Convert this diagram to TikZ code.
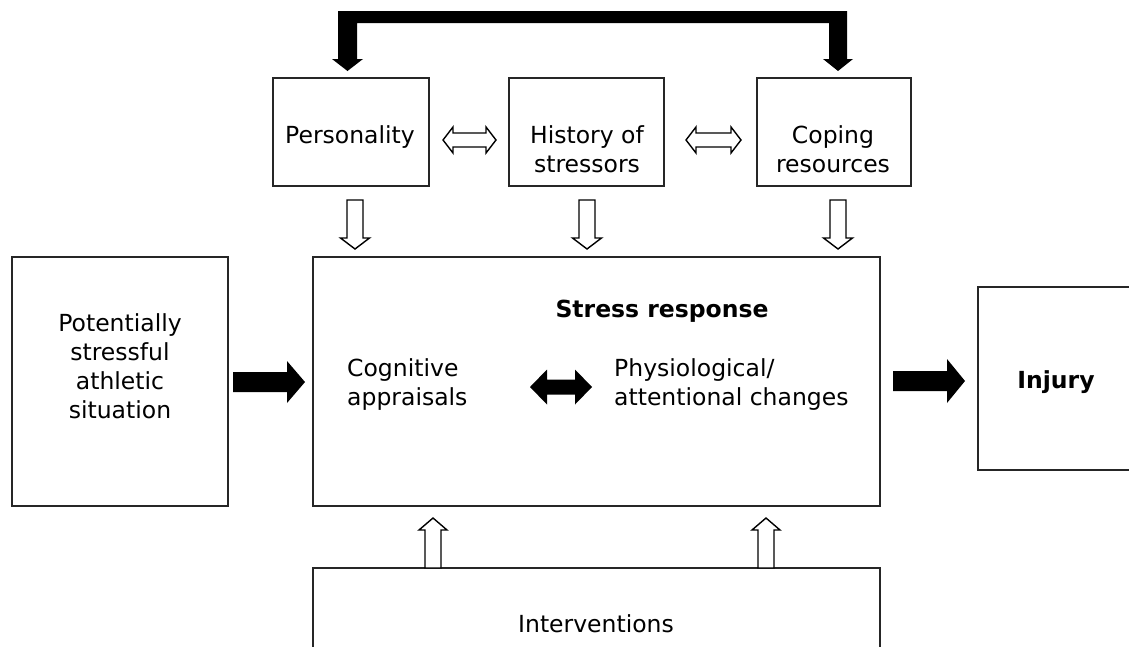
\documentclass[tikz,border=0pt]{standalone}
\usepackage{fontspec}
\setmainfont{DejaVu Sans}
\newcommand{\RArr}[7]{\path[#7] (#1,#3-#4) -- (#2-#6,#3-#4) -- (#2-#6,#3-#5) -- (#2,#3) -- (#2-#6,#3+#5) -- (#2-#6,#3+#4) -- (#1,#3+#4) -- cycle;}
\newcommand{\HDArr}[7]{\path[#7] (#1,#3) -- (#1+#6,#3-#5) -- (#1+#6,#3-#4) -- (#2-#6,#3-#4) -- (#2-#6,#3-#5) -- (#2,#3) -- (#2-#6,#3+#5) -- (#2-#6,#3+#4) -- (#1+#6,#3+#4) -- (#1+#6,#3+#5) -- cycle;}
\newcommand{\DArr}[7]{\path[#7] (#1-#4,#2) -- (#1-#4,#3-#6) -- (#1-#5,#3-#6) -- (#1,#3) -- (#1+#5,#3-#6) -- (#1+#4,#3-#6) -- (#1+#4,#2) -- cycle;}
\newcommand{\UArr}[7]{\path[#7] (#1-#4,#3) -- (#1-#4,#2+#6) -- (#1-#5,#2+#6) -- (#1,#2) -- (#1+#5,#2+#6) -- (#1+#4,#2+#6) -- (#1+#4,#3) -- cycle;}
\begin{document}
\begin{tikzpicture}[x=1pt,y=-1pt,
  box/.style={draw=black!85, line width=1.5pt, inner sep=0pt, fill=none},
  txt/.style={font=\fontsize{23.5}{29}\selectfont, inner sep=0pt},
  hollow/.style={draw=black, line width=1.4pt, fill=white, line join=miter},
  solid/.style={fill=black}]
\clip (0,0) rectangle (1129,646);
\fill[white] (0,0) rectangle (1129,646);
% boxes
\node[box, minimum width=216pt, minimum height=249pt] (sit) at (120,381.5) {};
\node[box, minimum width=156pt, minimum height=108pt] (pers) at (351,132) {};
\node[box, minimum width=155pt, minimum height=108pt] (hist) at (586.5,132) {};
\node[box, minimum width=154pt, minimum height=108pt] (cop) at (834,132) {};
\node[box, minimum width=567pt, minimum height=249pt] (main) at (596.5,381.5) {};
\node[box, line width=2.2pt, minimum width=170pt, minimum height=183pt] (inj) at (1063,378.5) {};
\node[box, minimum width=567pt, minimum height=102pt] (interv) at (596.5,619) {};
% texts (anchor=base sits on the last line)
\node[txt, anchor=base] (tpers) at (350,143) {Personality};
\node[txt, anchor=base, align=center] (thist) at (587,172) {History of\\stressors};
\node[txt, anchor=base, align=center] (tcop) at (833,172) {Coping\\resources};
\node[txt, anchor=base, font=\fontsize{23.5}{29}\selectfont\bfseries] (tstress) at (662,317) {Stress response};
\node[txt, anchor=base west, align=left] (tcog) at (347,405) {Cognitive\\appraisals};
\node[txt, anchor=base west, align=left] (tphys) at (614,405) {Physiological/\\attentional changes};
\node[txt, anchor=base, align=center] (tsit) at (120,418) {Potentially\\stressful\\athletic\\situation};
\node[txt, anchor=base, font=\fontsize{23.5}{29}\selectfont\bfseries] (tinj) at (1056,388) {Injury};
\node[txt, anchor=base] (tint) at (596,632) {Interventions};
% top bracket arrow
\fill[black] (338,11) -- (847,11) -- (847,59) -- (853,59) -- (838,71) -- (823,59) -- (829,59) -- (829,23) -- (357,23) -- (357,59) -- (363,59) -- (347.5,71) -- (332,59) -- (338,59) -- cycle;
% hollow double arrows
\HDArr{443}{496}{140}{7}{13}{10}{hollow}
\HDArr{686}{741}{140}{7}{13}{10}{hollow}
% hollow down arrows
\DArr{355}{200}{249}{8}{14.5}{11}{hollow}
\DArr{587}{200}{249}{8}{14.5}{11}{hollow}
\DArr{838}{200}{249}{8}{14.5}{11}{hollow}
% hollow up arrows
\UArr{433}{518}{568}{8}{14}{12}{hollow}
\UArr{766}{518}{568}{8}{14}{12}{hollow}
% black arrows
\RArr{233}{305}{382}{10}{21}{18}{solid}
\RArr{893}{965}{381}{10}{22}{18}{solid}
\HDArr{530}{592}{387}{7.5}{17.5}{17}{solid}
\end{tikzpicture}
\end{document}
